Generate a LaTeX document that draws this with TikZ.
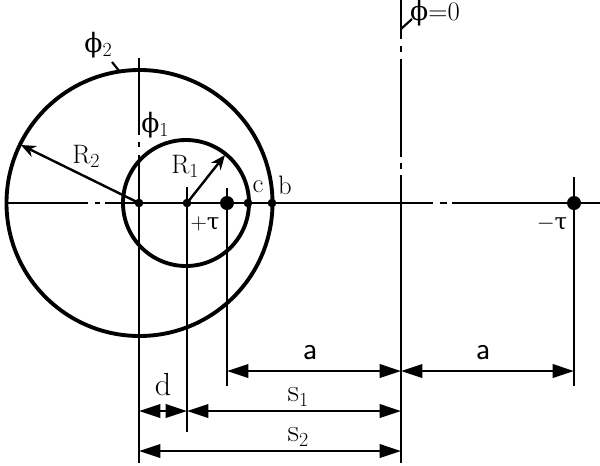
\documentclass[tikz,border=0pt]{standalone}
\usepackage{fontspec}
\usetikzlibrary{arrows.meta}
\newfontfamily\greekfont{DejaVu Serif}
\newcommand{\phisym}{{\greekfont\fontsize{20}{20}\selectfont ϕ}}
\newcommand{\tausym}{{\greekfont\fontsize{17}{17}\selectfont τ}}
\newcommand{\lowsub}[1]{\raisebox{-0.35ex}{\fontsize{15}{15}\selectfont #1}}

\begin{document}
\begin{tikzpicture}[x=0.75pt,y=-0.75pt,
    thinline/.style={line width=1.6pt},
    bigcircle/.style={line width=2.9pt},
    dimline/.style={line width=1.9pt,{Triangle[length=16pt,width=10pt]}-{Triangle[length=16pt,width=10pt]}},
    radline/.style={line width=1.8pt,-{Stealth[length=11pt,width=9pt]}},
    smalldot/.style={circle,fill=black,inner sep=0pt,minimum size=6.5pt},
    bigdot/.style={circle,fill=black,inner sep=0pt,minimum size=10.5pt},
    lab/.style={inner sep=0pt,font=\fontsize{20}{20}\selectfont},
    biglab/.style={inner sep=0pt,font=\fontsize{24}{24}\selectfont}]
    \useasboundingbox (0,0) rectangle (600,465);

    % Axis
    \draw[thinline] (5,203) -- (88,203);
    \draw[thinline] (95,203) -- (100,203);
    \draw[thinline] (105,203) -- (433,203);
    \draw[thinline] (440,203) -- (447,203);
    \draw[thinline] (452,203) -- (600,203);

    % Vertical through R2 centre
    \draw[thinline] (139,58) -- (139,135);
    \draw[thinline] (139,142) -- (139,147);
    \draw[thinline] (139,155) -- (139,463);

    % phi = 0 line
    \draw[thinline] (401,0) -- (401,39);
    \draw[thinline] (401,46) -- (401,52);
    \draw[thinline] (401,59) -- (401,157);
    \draw[thinline] (401,163) -- (401,169);
    \draw[thinline] (401,175) -- (401,463);

    % Points
    \node[smalldot] (cTwo) at (139,203) {};
    \node[smalldot] (cOne) at (187,203) {};
    \node[bigdot] (plusT) at (227,203) {};
    \node[smalldot] (ptC) at (248,203) {};
    \node[smalldot] (ptB) at (272,203) {};
    \node[bigdot] (minusT) at (574,203) {};

    % Circles
    \draw[bigcircle] (139.5,203) circle (133);
    \draw[bigcircle] (186,203) circle (63);

    % Extension lines
    \draw[thinline] (187,187) -- (187,432);
    \draw[thinline] (227,188) -- (227,386);
    \draw[thinline] (574,177) -- (574,386);

    % Radii
    \coordinate (rTwo) at (21,145);
    \coordinate (rOne) at (225,155);
    \draw[radline] (cTwo.center) -- (rTwo);
    \draw[radline] (cOne.center) -- (rOne);

    % Leaders
    \coordinate (leadA) at (112,62);
    \coordinate (leadB) at (120,72);
    \coordinate (leadC) at (412,19);
    \coordinate (leadD) at (401,29);
    \draw[thinline] (leadA) -- (leadB);
    \draw[thinline] (leadC) -- (leadD);

    % Dimensions
    \coordinate (aL) at (227,371);
    \coordinate (aM) at (401,371);
    \coordinate (aR) at (574,371);
    \coordinate (dL) at (139,411);
    \coordinate (dM) at (187,411);
    \coordinate (sOne) at (401,411);
    \coordinate (sL) at (139,451);
    \coordinate (sTwo) at (401,451);
    \draw[dimline] (aL) -- (aM);
    \draw[dimline] (aM) -- (aR);
    \draw[dimline] (dL) -- (dM);
    \draw[dimline] (dM) -- (sOne);
    \draw[dimline] (sL) -- (sTwo);

    % Labels
    \node[lab] (phiTwo) at (98,45) {\phisym\lowsub{2}};
    \node[lab] (phiOne) at (155,125) {\phisym\lowsub{1}};
    \node[lab] (phiZero) at (435,13) {\phisym=0};
    \node[lab] (labRTwo) at (86,156) {R\lowsub{2}};
    \node[lab] (labROne) at (185,166) {R\lowsub{1}};
    \node[lab] (labC) at (258,187) {c};
    \node[lab] (labB) at (285,185) {b};
    \node[lab] (labPlus) at (205,224) {\fontsize{17}{17}\selectfont +\tausym};
    \node[lab] (labMinus) at (552,224) {\fontsize{17}{17}\selectfont $-$\tausym};
    \node[biglab] (labA) at (310,353) {\sffamily a};
    \node[biglab] (labAA) at (483,353) {\sffamily a};
    \node[biglab] (labD) at (163,385) {d};
    \node[biglab] (labS) at (298,397) {s\lowsub{1}};
    \node[biglab] (labSS) at (298,437) {s\lowsub{2}};
\end{tikzpicture}
\end{document}
